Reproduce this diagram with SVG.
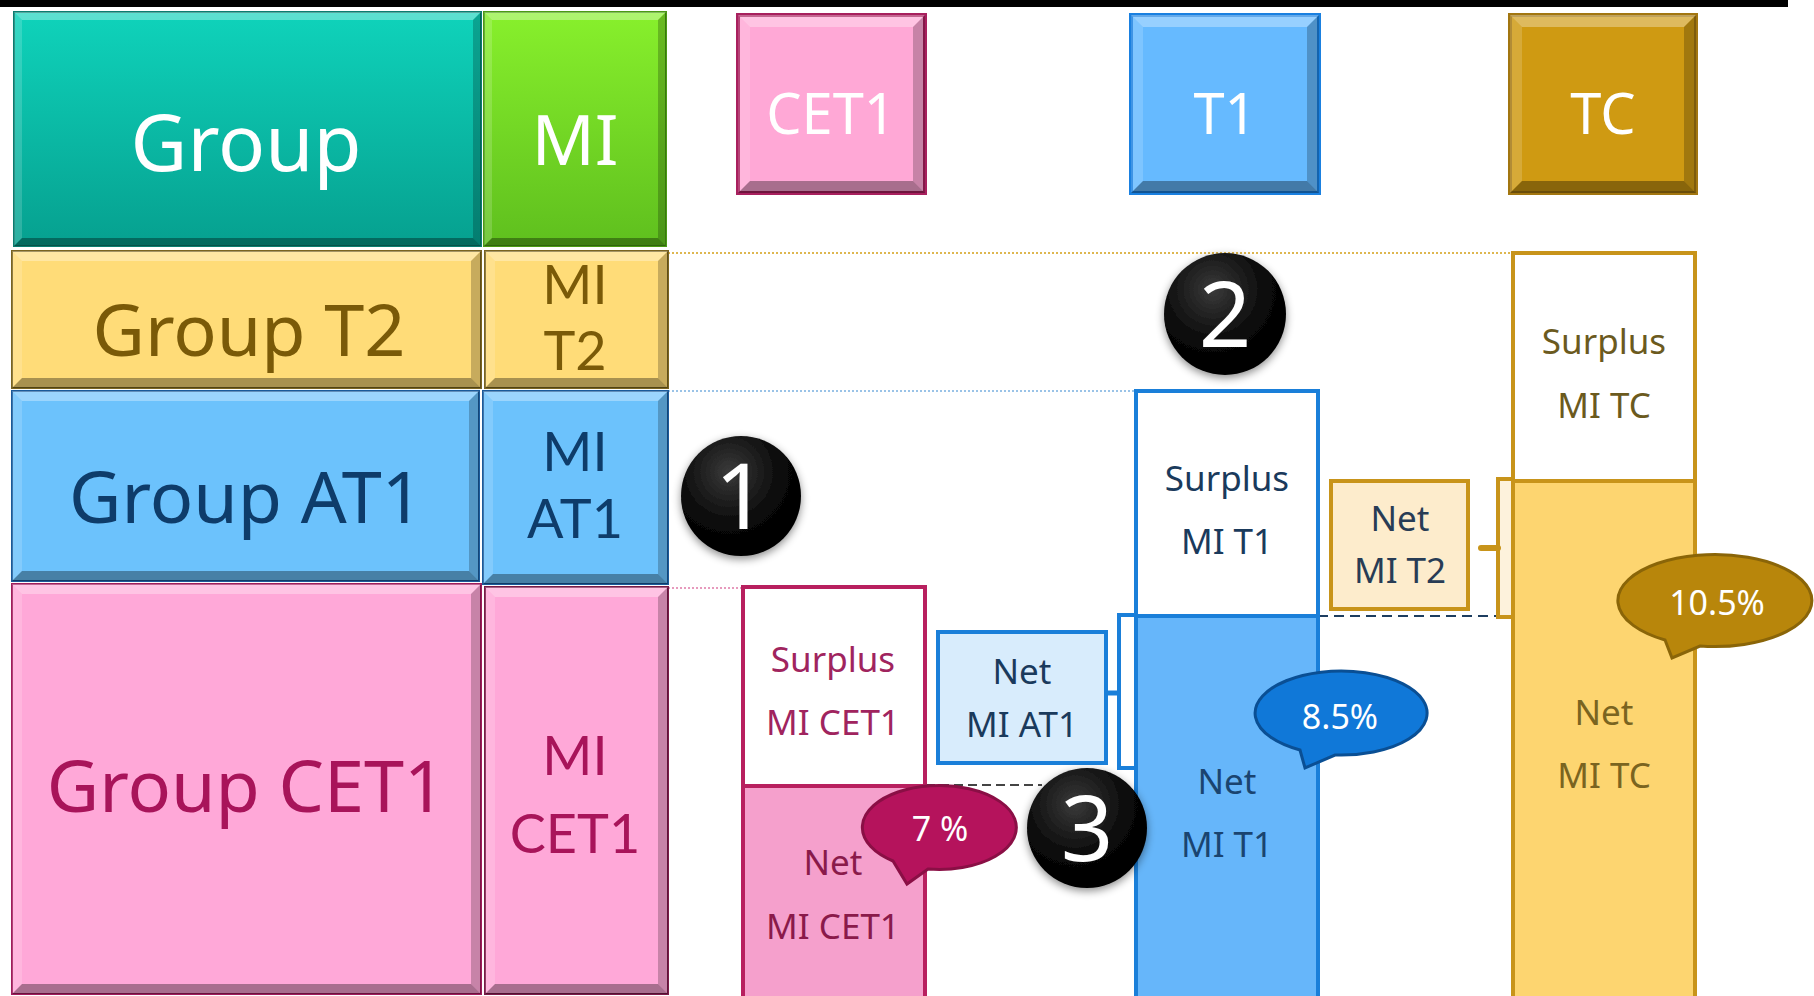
<svg xmlns="http://www.w3.org/2000/svg" width="1814" height="996" viewBox="0 0 1814 996">
<style>
text{font-family:"Noto Sans","Open Sans","Liberation Sans",sans-serif;text-anchor:middle}
.bt{fill:#fff;opacity:.32}.bl{fill:#fff;opacity:.16}.br{fill:#000;opacity:.22}.bb{fill:#000;opacity:.34}
.big{font-size:72px}.mid{font-family:Lato,"Noto Sans",sans-serif;font-size:54px}.hd{font-size:56px;fill:#fff}.sm{font-size:35px}.num{font-size:92px;fill:#fff}
.bub{font-size:34px;fill:#fff}
</style>
<defs>
<linearGradient id="gTeal" x1="0" y1="0" x2="0" y2="1"><stop offset="0" stop-color="#0fd3bb"/><stop offset="1" stop-color="#06a08f"/></linearGradient>
<linearGradient id="gGreen" x1="0" y1="0" x2="0" y2="1"><stop offset="0" stop-color="#88f02c"/><stop offset="1" stop-color="#5fbf1e"/></linearGradient>
<radialGradient id="gBall" cx="0.4" cy="0.3" r="0.75"><stop offset="0" stop-color="#3a3a3a"/><stop offset="0.6" stop-color="#080808"/><stop offset="1" stop-color="#000"/></radialGradient>
<filter id="sh" x="-30%" y="-30%" width="160%" height="160%"><feDropShadow dx="0" dy="3" stdDeviation="4" flood-color="#000" flood-opacity="0.45"/></filter>
</defs>
<rect x="0" y="0" width="1814" height="996" fill="#fff"/>
<rect x="0" y="0" width="1788" height="7" fill="#000"/>

<g id="connectors" fill="none">
<line x1="668" y1="253" x2="1512" y2="253" stroke="#d4a017" stroke-width="1.6" stroke-dasharray="2,2"/>
<line x1="668" y1="391" x2="1135" y2="391" stroke="#7ab0e0" stroke-width="1.6" stroke-dasharray="2,2"/>
<line x1="668" y1="588" x2="742" y2="588" stroke="#e07aa8" stroke-width="1.6" stroke-dasharray="2,2"/>
<line x1="926" y1="785" x2="1042" y2="785" stroke="#444" stroke-width="2" stroke-dasharray="9,5"/>
<line x1="1318" y1="616" x2="1500" y2="616" stroke="#1e3e60" stroke-width="2" stroke-dasharray="10,6"/>
<rect x="1119" y="615" width="24" height="153" fill="#fff" stroke="#1a7fd9" stroke-width="4"/>
<line x1="1106" y1="693" x2="1119" y2="693" stroke="#1a7fd9" stroke-width="5"/>
<rect x="1498" y="479" width="24" height="138" fill="#fdf2dc" stroke="#c8941a" stroke-width="4"/>
<line x1="1481" y1="548" x2="1498" y2="548" stroke="#c8941a" stroke-width="6" stroke-linecap="round"/>
</g>

<g id="group">
<rect x="14" y="12" width="467" height="234" fill="url(#gTeal)" stroke="#0a7d70" stroke-width="2"/>
<polygon class="bt" points="14,12 481,12 473,20 22,20"/><polygon class="bl" points="14,12 22,20 22,238 14,246"/><polygon class="br" points="481,12 481,246 473,238 473,20"/><polygon class="bb" points="14,246 22,238 473,238 481,246"/>
<text class="big" x="246" y="171" fill="#fff" style="font-size:78px">Group</text>
</g>
<g id="mi">
<rect x="484" y="12" width="182" height="234" fill="url(#gGreen)" stroke="#4a9a14" stroke-width="2"/>
<polygon class="bt" points="484,12 666,12 658,20 492,20"/><polygon class="bl" points="484,12 492,20 492,238 484,246"/><polygon class="br" points="666,12 666,246 658,238 658,20"/><polygon class="bb" points="484,246 492,238 658,238 666,246"/>
<text class="big" x="575" y="165" fill="#fff" style="font-size:70px">MI</text>
</g>
<g id="group-t2">
<rect x="12" y="251" width="469" height="137" fill="#ffdc78" stroke="#7a6420" stroke-width="2"/>
<polygon class="bt" points="12,251 481,251 471,261 22,261"/><polygon class="bl" points="12,251 22,261 22,378 12,388"/><polygon class="br" points="481,251 481,388 471,378 471,261"/><polygon class="bb" points="12,388 22,378 471,378 481,388"/>
<text class="big" x="249" y="356" fill="#7a5a08">Group T2</text>
</g>
<g id="mi-t2">
<rect x="485" y="251" width="183" height="137" fill="#ffdc78" stroke="#7a6420" stroke-width="2"/>
<polygon class="bt" points="485,251 668,251 658,261 495,261"/><polygon class="bl" points="485,251 495,261 495,378 485,388"/><polygon class="br" points="668,251 668,388 658,378 658,261"/><polygon class="bb" points="485,388 495,378 658,378 668,388"/>
<text class="mid" x="575" y="304" fill="#7a5a08">MI</text>
<text class="mid" x="575" y="370" fill="#7a5a08">T2</text>
</g>
<g id="group-at1">
<rect x="12" y="391" width="467" height="190" fill="#6cc2fc" stroke="#1a5a9a" stroke-width="2"/>
<polygon class="bt" points="12,391 479,391 469,401 22,401"/><polygon class="bl" points="12,391 22,401 22,571 12,581"/><polygon class="br" points="479,391 479,581 469,571 469,401"/><polygon class="bb" points="12,581 22,571 469,571 479,581"/>
<text class="big" x="246" y="523" fill="#0e3c6a">Group AT1</text>
</g>
<g id="mi-at1">
<rect x="483" y="391" width="185" height="193" fill="#6cc2fc" stroke="#1a5a9a" stroke-width="2"/>
<polygon class="bt" points="483,391 668,391 658,401 493,401"/><polygon class="bl" points="483,391 493,401 493,574 483,584"/><polygon class="br" points="668,391 668,584 658,574 658,401"/><polygon class="bb" points="483,584 493,574 658,574 668,584"/>
<text class="mid" x="575" y="471" fill="#0e3c6a">MI</text>
<text class="mid" x="575" y="538" fill="#0e3c6a">AT1</text>
</g>
<g id="group-cet1">
<rect x="12" y="584" width="469" height="410" fill="#ffa8d8" stroke="#a01c5c" stroke-width="2"/>
<polygon class="bt" points="12,584 481,584 471,594 22,594"/><polygon class="bl" points="12,584 22,594 22,984 12,994"/><polygon class="br" points="481,584 481,994 471,984 471,594"/><polygon class="bb" points="12,994 22,984 471,984 481,994"/>
<text class="big" x="246" y="812" fill="#a8145a">Group CET1</text>
</g>
<g id="mi-cet1">
<rect x="485" y="587" width="183" height="407" fill="#ffa8d8" stroke="#7a1a48" stroke-width="2"/>
<polygon class="bt" points="485,587 668,587 658,597 495,597"/><polygon class="bl" points="485,587 495,597 495,984 485,994"/><polygon class="br" points="668,587 668,994 658,984 658,597"/><polygon class="bb" points="485,994 495,984 658,984 668,994"/>
<text class="mid" x="575" y="775" fill="#a8145a">MI</text>
<text class="mid" x="575" y="853" fill="#a8145a">CET1</text>
</g>

<g id="hdr-cet1">
<rect x="738" y="15" width="187" height="178" fill="#ffa8d6" stroke="#a8205e" stroke-width="4"/>
<polygon class="bt" points="738,15 925,15 913,27 750,27"/><polygon class="bl" points="738,15 750,27 750,181 738,193"/><polygon class="br" points="925,15 925,193 913,181 913,27"/><polygon class="bb" points="738,193 750,181 913,181 925,193"/>
<text class="hd" x="831" y="134">CET1</text>
</g>
<g id="hdr-t1">
<rect x="1131" y="15" width="188" height="178" fill="#66baff" stroke="#1a80e0" stroke-width="4"/>
<polygon class="bt" points="1131,15 1319,15 1307,27 1143,27"/><polygon class="bl" points="1131,15 1143,27 1143,181 1131,193"/><polygon class="br" points="1319,15 1319,193 1307,181 1307,27"/><polygon class="bb" points="1131,193 1143,181 1307,181 1319,193"/>
<text class="hd" x="1225" y="134">T1</text>
</g>
<g id="hdr-tc">
<rect x="1510" y="15" width="186" height="178" fill="#cf9a12" stroke="#a27610" stroke-width="4"/>
<polygon class="bt" points="1510,15 1696,15 1684,27 1522,27"/><polygon class="bl" points="1510,15 1522,27 1522,181 1510,193"/><polygon class="br" points="1696,15 1696,193 1684,181 1684,27"/><polygon class="bb" points="1510,193 1522,181 1684,181 1696,193"/>
<text class="hd" x="1603" y="134">TC</text>
</g>

<g id="surplus-mi-cet1">
<rect x="743" y="587" width="182" height="199" fill="#fff" stroke="#b8205f" stroke-width="4"/>
<text class="sm" x="833" y="672" fill="#a0245e">Surplus</text>
<text class="sm" x="833" y="735" fill="#a0245e">MI CET1</text>
</g>
<g id="net-mi-cet1">
<rect x="743" y="786" width="182" height="212" fill="#f5a0cc" stroke="#b8205f" stroke-width="4"/>
<text class="sm" x="833" y="875" fill="#8a1a4a">Net</text>
<text class="sm" x="833" y="939" fill="#8a1a4a">MI CET1</text>
</g>
<g id="net-mi-at1">
<rect x="938" y="632" width="168" height="131" fill="#d8ecfc" stroke="#1a7fd9" stroke-width="4"/>
<text class="sm" x="1022" y="684" fill="#1a3a5c">Net</text>
<text class="sm" x="1022" y="737" fill="#1a3a5c">MI AT1</text>
</g>
<g id="surplus-mi-t1">
<rect x="1136" y="391" width="182" height="225" fill="#fff" stroke="#1a7fd9" stroke-width="4"/>
<text class="sm" x="1227" y="491" fill="#1a3a5c">Surplus</text>
<text class="sm" x="1227" y="554" fill="#1a3a5c">MI T1</text>
</g>
<g id="net-mi-t1">
<rect x="1136" y="616" width="182" height="382" fill="#66b6fa" stroke="#1a7fd9" stroke-width="4"/>
<text class="sm" x="1227" y="794" fill="#1a4470">Net</text>
<text class="sm" x="1227" y="857" fill="#1a4470">MI T1</text>
</g>
<g id="net-mi-t2">
<rect x="1331" y="481" width="137" height="128" fill="#fdeccc" stroke="#c8941a" stroke-width="4"/>
<text class="sm" x="1400" y="531" fill="#283c55">Net</text>
<text class="sm" x="1400" y="583" fill="#283c55">MI T2</text>
</g>
<g id="surplus-mi-tc">
<rect x="1513" y="253" width="182" height="228" fill="#fff" stroke="#c8941a" stroke-width="4"/>
<text class="sm" x="1604" y="354" fill="#6b5a1e">Surplus</text>
<text class="sm" x="1604" y="418" fill="#6b5a1e">MI TC</text>
</g>
<g id="net-mi-tc">
<rect x="1513" y="481" width="182" height="517" fill="#fdd570" stroke="#c8941a" stroke-width="4"/>
<text class="sm" x="1604" y="725" fill="#7a6420">Net</text>
<text class="sm" x="1604" y="788" fill="#7a6420">MI TC</text>
</g>

<g id="bubble-7">
<path d="M893,861 A77,42 0 1,1 928,869 L907,884 Z" fill="#b5135c" stroke="#8a0f45" stroke-width="3"/>
<text class="bub" x="940" y="841">7 %</text>
</g>
<g id="bubble-85">
<path d="M1300,750 A86,42 0 1,1 1335,755 L1305,768 Z" fill="#1078d8" stroke="#0a4f94" stroke-width="3"/>
<text class="bub" x="1340" y="729">8.5%</text>
</g>
<g id="bubble-105">
<path d="M1665,640 A97,46 0 1,1 1700,646 L1672,658 Z" fill="#b8860b" stroke="#8a6508" stroke-width="3"/>
<text class="bub" x="1717" y="615" fill="#fff4d0">10.5%</text>
</g>

<g id="step-1">
<circle cx="741" cy="496" r="60" fill="url(#gBall)" filter="url(#sh)"/>
<text class="num" x="741" y="529">1</text>
</g>
<g id="step-2">
<circle cx="1225" cy="314" r="61" fill="url(#gBall)" filter="url(#sh)"/>
<text class="num" x="1225" y="347">2</text>
</g>
<g id="step-3">
<circle cx="1087" cy="828" r="60" fill="url(#gBall)" filter="url(#sh)"/>
<text class="num" x="1087" y="861">3</text>
</g>
</svg>
